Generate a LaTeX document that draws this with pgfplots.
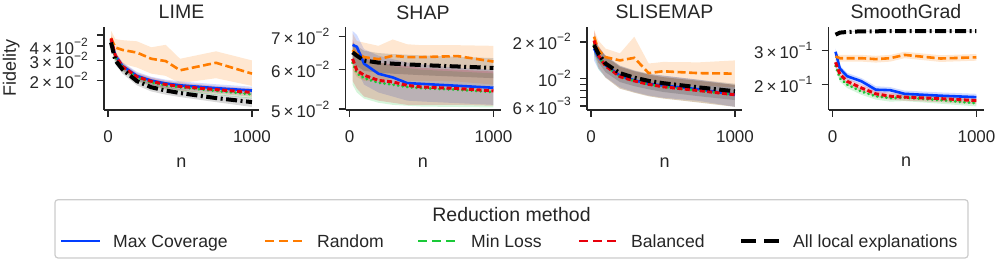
\documentclass[border=0pt]{standalone}
\usepackage{pgfplots}
\pgfplotsset{compat=1.18}
\usepackage{pgfplotstable}
\usepackage{fontspec}
\setmainfont{Liberation Sans}

\definecolor{cBlue}{HTML}{023EFF}
\definecolor{cOrange}{HTML}{FF7C00}
\definecolor{cGreen}{HTML}{1AC938}
\definecolor{cRed}{HTML}{E8000B}
\definecolor{cText}{HTML}{262626}
\definecolor{cFrame}{HTML}{CCCCCC}

\newcommand\tickfont{\fontsize{17}{18}\selectfont}
\newcommand\labfont{\fontsize{18}{20}\selectfont}
\newcommand\titfont{\fontsize{19.5}{22}\selectfont}
\newcommand\legfont{\fontsize{17.6}{20}\selectfont}
% matplotlib style log labels: 2 x 10^-2
\newcommand\pw[1]{10\raisebox{0.48em}{\fontsize{12}{12}\selectfont −#1}}
\newcommand\sci[2]{#1\hspace{0.18em}×\hspace{0.18em}\pw{#2}}

% mean lines: Max Coverage (b), Random (o), Min Loss (g), Balanced (r), All local (k)
% bands: upper values going right, then lower values coming back
\pgfplotstableread{
n    b      o      g      r      k
20   0.0450 0.0470 0.0445 0.0465 0.0430
50   0.0330 0.0388 0.0320 0.0330 0.0300
100  0.0268 0.0370 0.0262 0.0265 0.0250
200  0.0220 0.0351 0.0212 0.0216 0.0198
300  0.0200 0.0310 0.0193 0.0197 0.0175
400  0.0189 0.0296 0.0181 0.0185 0.0164
500  0.0182 0.0246 0.0175 0.0178 0.0156
750  0.0172 0.0286 0.0163 0.0167 0.0141
1000 0.0164 0.0230 0.0152 0.0158 0.0130
}\limedata
\pgfplotstableread{
n    b      o      g      r      k
20   0.0486 0.0545 0.0481 0.0502 0.0464
50   0.0356 0.0460 0.0346 0.0356 0.0324
100  0.0289 0.0450 0.0283 0.0286 0.0270
200  0.0238 0.0440 0.0229 0.0233 0.0214
300  0.0216 0.0390 0.0208 0.0213 0.0189
400  0.0204 0.0410 0.0195 0.0200 0.0177
500  0.0197 0.0310 0.0189 0.0192 0.0168
750  0.0186 0.0360 0.0176 0.0180 0.0152
1000 0.0177 0.0300 0.0164 0.0171 0.0142
1000 0.0151 0.0180 0.0140 0.0145 0.0118
750  0.0158 0.0210 0.0150 0.0154 0.0130
500  0.0167 0.0190 0.0161 0.0164 0.0144
400  0.0174 0.0220 0.0167 0.0170 0.0151
300  0.0184 0.0230 0.0178 0.0181 0.0161
200  0.0202 0.0260 0.0195 0.0199 0.0182
100  0.0247 0.0280 0.0241 0.0244 0.0230
50   0.0304 0.0310 0.0294 0.0304 0.0276
20   0.0414 0.0400 0.0409 0.0428 0.0396
}\limeband

\pgfplotstableread{
n    b      o      g      r      k
20   0.0673 0.0657 0.0620 0.0631 0.0650
50   0.0667 0.0645 0.0590 0.0598 0.0640
100  0.0617 0.0636 0.0577 0.0585 0.0626
200  0.0589 0.0630 0.0565 0.0571 0.0620
300  0.0579 0.0640 0.0560 0.0567 0.0617
400  0.0564 0.0636 0.0554 0.0558 0.0615
500  0.0562 0.0636 0.0551 0.0554 0.0613
750  0.0557 0.0639 0.0547 0.0550 0.0609
1000 0.0552 0.0623 0.0541 0.0544 0.0605
}\shapdata
\pgfplotstableread{
n    b      o      g      r      k
20   0.0718 0.0710 0.0680 0.0690 0.0680
50   0.0705 0.0685 0.0650 0.0660 0.0670
100  0.0660 0.0680 0.0630 0.0640 0.0655
200  0.0640 0.0670 0.0620 0.0620 0.0648
300  0.0630 0.0690 0.0610 0.0615 0.0645
400  0.0620 0.0675 0.0605 0.0610 0.0643
500  0.0615 0.0672 0.0600 0.0605 0.0641
750  0.0605 0.0672 0.0595 0.0600 0.0637
1000 0.0600 0.0670 0.0590 0.0595 0.0633
1000 0.0510 0.0560 0.0504 0.0508 0.0577
750  0.0514 0.0568 0.0505 0.0510 0.0581
500  0.0518 0.0570 0.0506 0.0510 0.0585
400  0.0520 0.0570 0.0508 0.0510 0.0587
300  0.0530 0.0575 0.0510 0.0515 0.0589
200  0.0540 0.0570 0.0515 0.0520 0.0592
100  0.0560 0.0570 0.0525 0.0530 0.0597
50   0.0600 0.0580 0.0540 0.0550 0.0610
20   0.0615 0.0600 0.0560 0.0570 0.0620
}\shapband

\pgfplotstableread{
n    b      o      g      r      k
20   0.0176 0.0220 0.0190 0.0205 0.0188
50   0.0150 0.0171 0.0150 0.0155 0.0160
100  0.0129 0.0150 0.0127 0.0127 0.0133
200  0.0106 0.0141 0.0104 0.0104 0.0111
300  0.0097 0.0148 0.0096 0.0096 0.0102
400  0.0091 0.0111 0.0090 0.0090 0.0096
500  0.0088 0.0115 0.0086 0.0086 0.0092
750  0.0082 0.0111 0.0080 0.0080 0.0085
1000 0.0074 0.0110 0.0074 0.0074 0.0079
}\slisedata
\pgfplotstableread{
n    b      o      g      r      k
20   0.0211 0.0250 0.0228 0.0246 0.0216
50   0.0180 0.0205 0.0180 0.0186 0.0184
100  0.0155 0.0176 0.0152 0.0152 0.0153
200  0.0127 0.0161 0.0125 0.0125 0.0128
300  0.0116 0.0220 0.0115 0.0115 0.0117
400  0.0109 0.0133 0.0108 0.0108 0.0110
500  0.0106 0.0137 0.0103 0.0103 0.0106
750  0.0098 0.0136 0.0096 0.0096 0.0098
1000 0.0089 0.0141 0.0089 0.0089 0.0091
1000 0.0059 0.0085 0.0059 0.0059 0.0067
750  0.0066 0.0088 0.0064 0.0064 0.0072
500  0.0070 0.0090 0.0069 0.0069 0.0078
400  0.0073 0.0090 0.0072 0.0072 0.0082
300  0.0078 0.0105 0.0077 0.0077 0.0087
200  0.0085 0.0110 0.0083 0.0083 0.0094
100  0.0103 0.0125 0.0102 0.0102 0.0113
50   0.0120 0.0135 0.0120 0.0124 0.0136
20   0.0141 0.0180 0.0152 0.0164 0.0160
}\sliseband

\pgfplotstableread{
n    b     o     g     r     k
20   0.296 0.280 0.250 0.261 0.363
50   0.242 0.274 0.216 0.226 0.372
100  0.221 0.274 0.200 0.208 0.375
200  0.208 0.274 0.184 0.192 0.378
300  0.188 0.271 0.174 0.179 0.378
400  0.187 0.274 0.170 0.174 0.379
500  0.179 0.285 0.171 0.172 0.379
750  0.175 0.273 0.166 0.169 0.379
1000 0.172 0.277 0.160 0.165 0.379
}\smoothdata
\pgfplotstableread{
n    b     o     g     r     k
20   0.308 0.291 0.260 0.271 0.365
50   0.252 0.285 0.225 0.235 0.374
100  0.230 0.285 0.208 0.216 0.377
200  0.216 0.285 0.191 0.200 0.380
300  0.196 0.282 0.181 0.186 0.380
400  0.194 0.285 0.177 0.181 0.381
500  0.186 0.296 0.178 0.179 0.381
750  0.182 0.284 0.173 0.176 0.381
1000 0.179 0.288 0.166 0.172 0.381
1000 0.165 0.266 0.154 0.158 0.377
750  0.168 0.262 0.159 0.162 0.377
500  0.172 0.274 0.164 0.165 0.377
400  0.180 0.263 0.163 0.167 0.377
300  0.180 0.260 0.167 0.172 0.376
200  0.200 0.263 0.177 0.184 0.376
100  0.212 0.263 0.192 0.200 0.373
50   0.232 0.263 0.207 0.217 0.370
20   0.284 0.269 0.240 0.251 0.361
}\smoothband

\tikzset{
  mc/.style={cBlue, line width=2.6pt, solid},
  rnd/.style={cOrange, line width=2.6pt, dash pattern=on 8pt off 3.5pt},
  ml/.style={cGreen, line width=3pt, line cap=round, dash pattern=on 0.1pt off 4.5pt},
  bal/.style={cRed, line width=3pt, dash pattern=on 5pt off 2.5pt},
  alle/.style={black, line width=4pt, dash pattern=on 11pt off 3.5pt on 2pt off 3.5pt},
}

% #1 mean table, #2 band table
\newcommand\allseries[2]{%
  \addplot[fill=cBlue, fill opacity=0.18, draw=none] table[x=n, y=b] {#2} -- cycle;
  \addplot[fill=cOrange, fill opacity=0.18, draw=none] table[x=n, y=o] {#2} -- cycle;
  \addplot[fill=cGreen, fill opacity=0.18, draw=none] table[x=n, y=g] {#2} -- cycle;
  \addplot[fill=cRed, fill opacity=0.18, draw=none] table[x=n, y=r] {#2} -- cycle;
  \addplot[fill=black, fill opacity=0.15, draw=none] table[x=n, y=k] {#2} -- cycle;
  \addplot[mc, no markers] table[x=n, y=b] {#1};
  \addplot[rnd, no markers] table[x=n, y=o] {#1};
  \addplot[ml, no markers] table[x=n, y=g] {#1};
  \addplot[bal, no markers] table[x=n, y=r] {#1};
  \addplot[alle, no markers] table[x=n, y=k] {#1};
}

\pgfplotsset{
  fidaxis/.style={
    scale only axis, width=155pt, height=83pt,
    anchor=south west,
    xmin=-29, xmax=1049,
    axis x line*=bottom, axis y line*=left,
    axis line style={line width=1.8pt, cText, -},
    tick style={line width=1.5pt, cText},
    tick align=outside, major tick length=7pt,
    xtick={0,1000}, xticklabels={0,1000},
    tick label style={font=\tickfont, text=cText},
    xticklabel style={anchor=base, inner sep=0pt, yshift=-26pt},
    yticklabel style={anchor=east, inner sep=0pt, xshift=-9pt},
    title style={font=\titfont, text=cText, at={(axis description cs:0.5,1)}, anchor=base, yshift=2pt},
    xlabel={n},
    xlabel style={font=\labfont, text=cText, at={(axis description cs:0.5,0)}, anchor=base, yshift=-57pt},
  }
}

\begin{document}
\begin{tikzpicture}[x=1pt, y=1pt]
\useasboundingbox (0,0) rectangle (996,259);

\begin{axis}[fidaxis, ymode=log, at={(104pt,149pt)}, title={LIME},
  ymin=0.0111, ymax=0.0586,
  ytick={0.02,0.03,0.04,0.05}, minor ytick={},
  yticklabels={\sci{2}{2},\sci{3}{2},\sci{4}{2},{}}]
  \allseries{\limedata}{\limeband}
\end{axis}

\begin{axis}[fidaxis, ymode=log, at={(345.5pt,149pt)}, title={SHAP},
  ymin=0.0498, ymax=0.0731,
  ytick={0.05,0.06,0.07}, minor ytick={},
  yticklabels={\sci{5}{2},\sci{6}{2},\sci{7}{2}}]
  \allseries{\shapdata}{\shapband}
\end{axis}

\begin{axis}[fidaxis, ymode=log, at={(587pt,149pt)}, title={SLISEMAP},
  ymin=0.00556, ymax=0.0264,
  ytick={0.006,0.007,0.008,0.009,0.01,0.02}, minor ytick={},
  yticklabels={\sci{6}{3},{},{},{},\pw{2},\sci{2}{2}}]
  \allseries{\slisedata}{\sliseband}
\end{axis}

\begin{axis}[fidaxis, ymode=log, at={(828.5pt,149pt)}, title={SmoothGrad},
  ymin=0.1475, ymax=0.398,
  ytick={0.2,0.3}, minor ytick={},
  yticklabels={\sci{2}{1},\sci{3}{1}}]
  \allseries{\smoothdata}{\smoothband}
\end{axis}

% y label of the first panel
\node[rotate=90, font=\labfont, text=cText, anchor=base] at (16,191) {Fidelity};

% legend
\draw[cFrame, line width=1.2pt, rounded corners=3pt, fill=white] (55,1) rectangle (968,59.3);
\node[font=\titfont, text=cText, anchor=base, inner sep=0pt] at (511.5,37.7) {Reduction method};
\begin{scope}[every node/.style={font=\legfont, text=cText, anchor=base west, inner sep=0pt}]
  \draw[cBlue, line width=2.5pt] (61,18) -- (100,18);
  \node at (113,11.7) {Max Coverage};
  \draw[cOrange, line width=2.5pt, dash pattern=on 9pt off 5pt] (265,18) -- (303,18);
  \node at (317,11.7) {Random};
  \draw[cGreen, line width=2.5pt, dash pattern=on 9pt off 5pt] (418,18) -- (456,18);
  \node at (471,11.7) {Min Loss};
  \draw[cRed, line width=2.5pt, dash pattern=on 9pt off 5pt] (579,18) -- (617,18);
  \node at (631,11.7) {Balanced};
  \draw[black, line width=3.5pt, dash pattern=on 15pt off 8pt] (741,18) -- (779,18);
  \node at (793,11.7) {All local explanations};
\end{scope}
\end{tikzpicture}
\end{document}
